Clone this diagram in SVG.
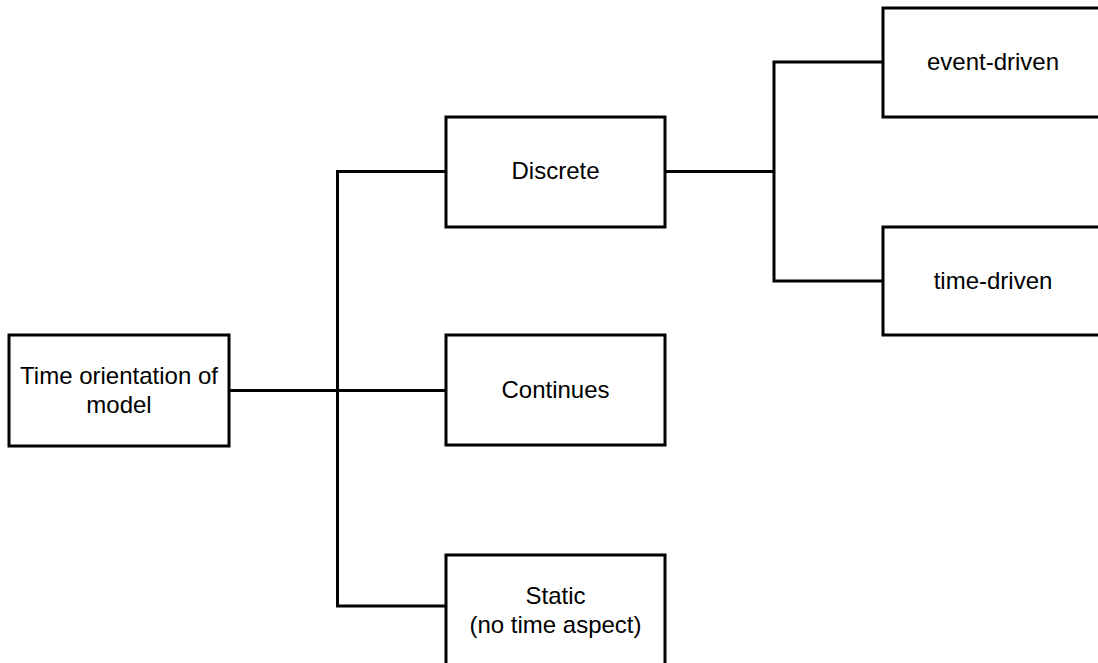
<svg xmlns="http://www.w3.org/2000/svg" width="1098" height="663" viewBox="0 0 1098 663">
<style>
.box{fill:#fff;stroke:#000;stroke-width:3}
.lbl{font-family:"Liberation Sans",Arial,sans-serif;font-size:24px;fill:#000;text-anchor:middle}
.conn{fill:none;stroke:#000;stroke-width:3}
</style>
<rect width="1098" height="663" fill="#fff"/>
<g id="connectors">
<path class="conn" d="M229,390.5 H446"/>
<path class="conn" d="M446,171.5 H337.5 V606 H446"/>
<path class="conn" d="M665,171.5 H774"/>
<path class="conn" d="M883,62 H774 V281 H883"/>
</g>
<g id="root">
<rect class="box" x="9" y="335" width="220" height="111"/>
<text class="lbl" x="119" y="384">Time orientation of</text>
<text class="lbl" x="119" y="412.5">model</text>
</g>
<g id="discrete">
<rect class="box" x="446" y="117" width="219" height="110"/>
<text class="lbl" x="555.5" y="179">Discrete</text>
</g>
<g id="continues">
<rect class="box" x="446" y="335" width="219" height="110"/>
<text class="lbl" x="555.5" y="398">Continues</text>
</g>
<g id="static">
<rect class="box" x="446" y="555" width="219" height="110"/>
<text class="lbl" x="555.5" y="604">Static</text>
<text class="lbl" x="555.5" y="632.5">(no time aspect)</text>
</g>
<g id="event-driven">
<rect class="box" x="883" y="8" width="220" height="109"/>
<text class="lbl" x="993" y="70">event-driven</text>
</g>
<g id="time-driven">
<rect class="box" x="883" y="227" width="220" height="108"/>
<text class="lbl" x="993" y="289">time-driven</text>
</g>
</svg>
